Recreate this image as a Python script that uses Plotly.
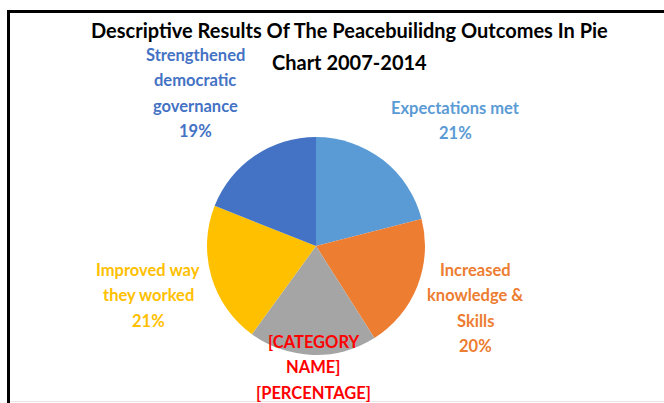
import plotly.graph_objects as go

# ---- data ----
categories = ["Expectations met", "Increased knowledge & Skills", "[CATEGORY NAME]",
              "Improved way they worked", "Strengthened democratic governance"]
values = [21, 20, 19, 21, 19]
label_lines = [["Expectations met"], ["Increased", "knowledge &", "Skills"],
               ["[CATEGORY", "NAME]"], ["Improved way", "they worked"],
               ["Strengthened", "democratic", "governance"]]
pct_labels = ["21%", "20%", "[PERCENTAGE]", "21%", "19%"]
title_lines = ["Descriptive Results Of The Peacebuilidng Outcomes In Pie", "Chart 2007-2014"]

# ---- styles ----
W, H = 664, 403
slice_colors = ["#5B9BD5", "#ED7D31", "#A5A5A5", "#FFC000", "#4472C4"]
label_colors = ["#5B9BD5", "#ED7D31", "#FF0000", "#FFC000", "#4472C4"]
# label block: (center x px, first-line center y px)
label_pos = [(455, 108), (475, 270), (313, 342), (148, 270), (195, 55)]
line_gap = 25.3
FONT = "Lato"

cx, cy, r = 316, 246, 109

fig = go.Figure(go.Pie(
    labels=categories, values=values, sort=False, direction="clockwise", rotation=0,
    marker=dict(colors=slice_colors, line=dict(width=0)),
    textinfo="none", showlegend=False,
    domain=dict(x=[(cx - r) / W, (cx + r) / W], y=[1 - (cy + r) / H, 1 - (cy - r) / H]),
))

annotations = []
for i in range(len(categories)):
    lines = label_lines[i] + [pct_labels[i]]
    x0, y0 = label_pos[i]
    for k, t in enumerate(lines):
        py = y0 + k * line_gap
        annotations.append(dict(
            text=t, x=x0 / W, y=1 - py / H, xref="paper", yref="paper",
            xanchor="center", yanchor="middle", showarrow=False,
            font=dict(family=FONT, size=16.5, color=label_colors[i], weight="bold")))

for k, t in enumerate(title_lines):
    py = 30 + k * 32
    annotations.append(dict(
        text=t, x=349 / W, y=1 - py / H, xref="paper", yref="paper",
        xanchor="center", yanchor="middle", showarrow=False,
        font=dict(family=FONT, size=20, color="#000000", weight="bold")))

shapes = [
    dict(type="line", xref="paper", yref="paper", x0=8.5 / W, x1=8.5 / W, y0=0, y1=1 - 10 / H,
         line=dict(color="#000000", width=3)),
    dict(type="line", xref="paper", yref="paper", x0=7 / W, x1=1, y0=1 - 11.5 / H, y1=1 - 11.5 / H,
         line=dict(color="#000000", width=3)),
    dict(type="line", xref="paper", yref="paper", x0=10 / W, x1=1, y0=1 - 401.5 / H, y1=1 - 401.5 / H,
         line=dict(color="#E8E8E8", width=1)),
]

fig.update_layout(
    width=W, height=H, autosize=False,
    margin=dict(l=0, r=0, t=0, b=0),
    paper_bgcolor="#FFFFFF", plot_bgcolor="#FFFFFF",
    annotations=annotations, shapes=shapes,
)

fig.write_html("out.html")
